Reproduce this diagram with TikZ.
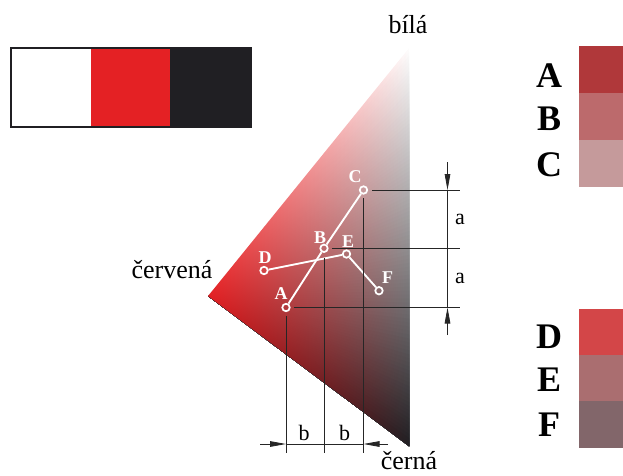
\documentclass[tikz,border=0pt]{standalone}
\usepackage{fontspec}
\setmainfont{Liberation Serif}
\usepackage{xcolor}
\usepackage{tikz}
\usetikzlibrary{arrows.meta,fadings}

\definecolor{cred}{RGB}{228,33,36}
\definecolor{cblack}{RGB}{32,31,35}
\definecolor{swA}{RGB}{176,56,58}
\definecolor{swB}{RGB}{188,106,108}
\definecolor{swC}{RGB}{197,154,155}
\definecolor{swD}{RGB}{211,70,72}
\definecolor{swE}{RGB}{170,110,112}
\definecolor{swF}{RGB}{130,102,106}
\tikzfading[name=redfade,left color=transparent!0,right color=transparent!100]

\begin{document}
\begin{tikzpicture}[x=0.75pt,y=-0.75pt,>={Triangle[length=12pt,width=4.2pt]},
  pt/.style={circle,draw=white,line width=1.3pt,minimum size=5.6pt,inner sep=0pt},
  ptlab/.style={text=white,font=\bfseries\fontsize{13.5}{14}\selectfont},
  wl/.style={white,line width=1.4pt},
  dim/.style={line width=0.6pt,black!85},
  lab/.style={font=\fontsize{19.5}{20}\selectfont,anchor=base},
  dlab/.style={font=\fontsize{16.5}{17}\selectfont},
  big/.style={font=\bfseries\fontsize{27}{27}\selectfont,anchor=base},
  sw/.style={minimum width=33pt,minimum height=35pt,inner sep=0pt}]
\useasboundingbox (0,0) rectangle (623,475);
% colour bar
\fill[white] (10,47) rectangle (252,128);
\fill[cred] (91,47) rectangle (170,128);
\fill[cblack] (170,47) rectangle (252,128);
\draw[cblack,line width=1.5pt] (11,48) rectangle (251,127);
% colour triangle: white, red, black
\coordinate (R) at (208,296);
\coordinate (T) at (409,48);
\coordinate (K) at (409,446);
\foreach \i in {0,...,99}{
  \pgfmathsetmacro\ya{48+3.98*\i}
  \pgfmathsetmacro\p{\i+0.5}
  \fill[cblack!\p!white] (R) -- (409,\ya) -- (K) -- cycle;
}
\fill[cred,path fading=redfade] (R) -- (T) -- (K) -- cycle;
\node[lab] (wh) at (408,33) {bílá};
\node[lab] (rd) at (172,278) {červená};
\node[lab] (bk) at (409,469) {černá};
% points
\node[pt] (A) at (286,307.5) {};
\node[pt] (B) at (324,248.3) {};
\node[pt] (C) at (363.5,190) {};
\node[pt] (D) at (264,270.5) {};
\node[pt] (E) at (346.5,254) {};
\node[pt] (F) at (379,290.7) {};
\draw[wl] (A) -- (B) -- (C);
\draw[wl] (D) -- (E) -- (F);
\foreach \n/\x/\y in {A/281/294,B/320/237.5,C/355/177,D/265/257.5,E/348/241.5,F/387.5/277.5}
  \node[ptlab] (t\n) at (\x,\y) {\n};
% dimension lines
\coordinate (hA1) at (294,307.5); \coordinate (hA2) at (460,307.5);
\coordinate (hB1) at (332,248.3); \coordinate (hB2) at (460,248.3);
\coordinate (hC1) at (372,190);   \coordinate (hC2) at (460,190);
\draw[dim] (hA1) -- (hA2);
\draw[dim] (hB1) -- (hB2);
\draw[dim] (hC1) -- (hC2);
\coordinate (vA1) at (286,316); \coordinate (vA2) at (286,453);
\coordinate (vB1) at (324,258); \coordinate (vB2) at (324,453);
\coordinate (vC1) at (363.5,198); \coordinate (vC2) at (363.5,453);
\draw[dim] (vA1) -- (vA2);
\draw[dim] (vB1) -- (vB2);
\draw[dim] (vC1) -- (vC2);
\coordinate (ya1) at (447.5,162); \coordinate (ya2) at (447.5,190);
\coordinate (ya3) at (447.5,307.5); \coordinate (ya4) at (447.5,335);
\draw[dim,->] (ya1) -- (ya2);
\draw[dim] (ya2) -- (ya3);
\draw[dim,->] (ya4) -- (ya3);
\node[dlab] (a1) at (460,219) {a};
\node[dlab] (a2) at (460,278) {a};
\coordinate (xb1) at (260,444); \coordinate (xb2) at (286,444);
\coordinate (xb3) at (363.5,444); \coordinate (xb4) at (388,444);
\draw[dim,->] (xb1) -- (xb2);
\draw[dim] (xb2) -- (xb3);
\draw[dim,->] (xb4) -- (xb3);
\node[dlab] (b1) at (304,433) {b};
\node[dlab] (b2) at (344.5,433) {b};
% swatches
\foreach \n/\yb/\ys in {A/87/69.7,B/130/116.3,C/176.5/163.3,D/348/332,E/391.5/378,F/436.5/424.3}{
  \node[big] (l\n) at (549,\yb) {\n};
  \node[sw,fill=sw\n] (s\n) at (601,\ys) {};
}
\end{tikzpicture}
\end{document}
